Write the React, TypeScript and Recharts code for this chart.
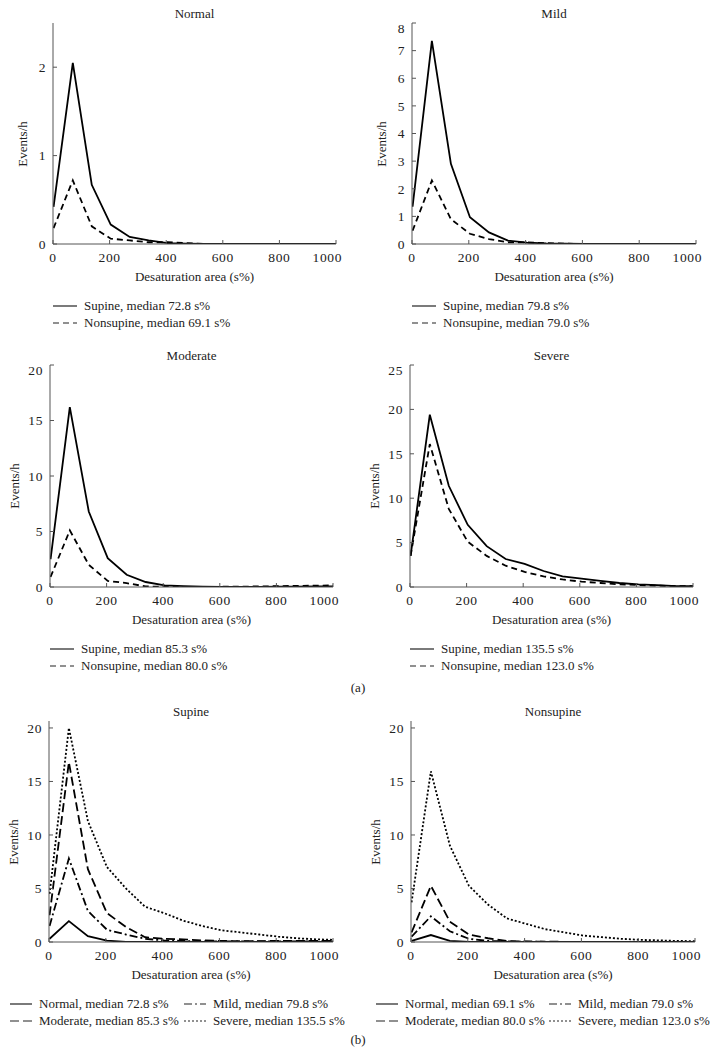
import React from "react";
import { LineChart, Line, XAxis, YAxis } from "recharts";

// desaturation area bins (s%)
const areaBins = [2, 70, 137, 204, 271, 338, 405, 472, 539, 606, 673, 740, 807, 874, 941, 1000];
const xTicks = [0, 200, 400, 600, 800, 1000];

// (a) per severity group, events/h
const normalSupine = [0.42, 2.05, 0.67, 0.22, 0.08, 0.04, 0.01, 0.005, 0, 0, 0, 0, 0, 0, 0, 0];
const normalNonsupine = [0.18, 0.72, 0.2, 0.06, 0.04, 0.02, 0.02, 0.01, 0, 0, 0, 0, 0, 0, 0, 0];
const mildSupine = [1.35, 7.35, 2.9, 0.97, 0.42, 0.12, 0.05, 0.02, 0.01, 0, 0, 0, 0, 0, 0, 0];
const mildNonsupine = [0.48, 2.3, 0.9, 0.37, 0.18, 0.06, 0.06, 0.03, 0.01, 0, 0, 0, 0, 0, 0, 0];
const moderateSupine = [2.5, 16.2, 6.8, 2.6, 1.1, 0.45, 0.15, 0.08, 0.04, 0.02, 0.02, 0.02, 0.03, 0.04, 0.05, 0.06];
const moderateNonsupine = [0.9, 5.1, 2.0, 0.55, 0.35, 0.05, 0.02, 0.02, 0.02, 0.02, 0.03, 0.05, 0.08, 0.1, 0.12, 0.15];
const severeSupine = [3.5, 19.4, 11.4, 7.0, 4.6, 3.15, 2.6, 1.8, 1.2, 0.95, 0.7, 0.45, 0.3, 0.2, 0.1, 0.1];
const severeNonsupine = [3.5, 16.1, 8.8, 5.1, 3.5, 2.4, 1.7, 1.2, 0.85, 0.6, 0.45, 0.3, 0.22, 0.15, 0.1, 0.08];

// (b) per position
const supNormal = [0.3, 1.95, 0.55, 0.12, 0.02, 0.01, 0, 0, 0, 0, 0, 0, 0, 0, 0, 0];
const supMild = [1.5, 7.8, 2.9, 1.15, 0.7, 0.3, 0.15, 0.1, 0.06, 0.05, 0.05, 0.05, 0.05, 0.05, 0.05, 0.05];
const supModerate = [2.5, 16.8, 6.8, 2.7, 1.4, 0.45, 0.3, 0.25, 0.15, 0.1, 0.08, 0.08, 0.1, 0.1, 0.1, 0.1];
const supSevere = [4.5, 20.0, 11.3, 7.0, 5.0, 3.3, 2.7, 2.0, 1.5, 1.1, 0.9, 0.7, 0.5, 0.35, 0.25, 0.2];
const nonNormal = [0.1, 0.65, 0.1, 0.02, 0.01, 0, 0, 0, 0, 0, 0, 0, 0, 0, 0, 0];
const nonMild = [0.5, 2.4, 1.0, 0.3, 0.1, 0.05, 0.03, 0.02, 0.01, 0.01, 0.01, 0.01, 0.01, 0.01, 0.01, 0.01];
const nonModerate = [0.9, 5.25, 1.9, 0.7, 0.35, 0.1, 0.05, 0.03, 0.02, 0.02, 0.02, 0.02, 0.02, 0.02, 0.02, 0.02];
const nonSevere = [3.7, 15.95, 9.0, 5.25, 3.5, 2.2, 1.7, 1.2, 0.9, 0.6, 0.45, 0.3, 0.2, 0.15, 0.1, 0.08];

const FONT = '"Liberation Serif", "DejaVu Serif", serif';
const INK = "#222";
const FRAME = "#555";

const SOLID = undefined;
const DASH = "6 4";
const LONGDASH = "9 4";
const DASHDOT = "8 3 2 3";
const DOT = "2 2";

type Series = { key: string; name: string; dash?: string };

function rows(cols: Record<string, number[]>) {
  return areaBins.map((x, i) => {
    const r: Record<string, number> = { x };
    for (const k in cols) r[k] = cols[k][i];
    return r;
  });
}

// y label, placed from the plot's left edge (page px)
function YLabel({ left, top, h, gap }: { left: number; top: number; h: number; gap: number }) {
  return (
    <div style={{
      position: "absolute", left: left - gap - 40, top: top + h / 2 + 10 - 8, width: 80, height: 16,
      textAlign: "center", lineHeight: "16px", transform: "rotate(-90deg)",
      fontFamily: FONT, fontSize: 13, color: INK,
    }}>Events/h</div>
  );
}

const XLabel = (p: any) => {
  const vb = p.viewBox;
  return (
    <text x={vb.x + vb.width / 2} y={vb.y + 32} textAnchor="middle" dominantBaseline="central"
      fill={INK} fontSize={13} fontFamily={FONT}>Desaturation area (s%)</text>
  );
};

function Sample({ dash, w }: { dash?: string; w: number }) {
  return (
    <svg width={w} height={10} style={{ display: "block", flex: "none" }}>
      <line x1={0} y1={5} x2={w} y2={5} stroke={INK} strokeWidth={1.2} strokeDasharray={dash} />
    </svg>
  );
}

function Panel({ left, top, w, h, title, yMax, yTicks, gap, data, series, lw = 1.8 }: {
  left: number; top: number; w: number; h: number; title: string; yMax: number; yTicks: number[];
  gap: number; data: Record<string, number>[]; series: Series[]; lw?: number;
}) {
  const ML = 50, MT = 3, MR = 6, XH = 44;
  const W = w + ML + MR, H = h + MT + XH;
  const tickStyle = { fill: INK, fontSize: 13.5, fontFamily: FONT, letterSpacing: 0.6 };
  return (
    <>
      <div style={{ position: "absolute", left, top: top - 17, width: w, textAlign: "center", fontFamily: FONT, fontSize: 13, color: INK, lineHeight: "16px" }}>
        {title}
      </div>
      <YLabel left={left} top={top} h={h} gap={gap} />
      <div style={{ position: "absolute", left: left - ML, top: top - MT }}>
        <LineChart width={W} height={H} data={data} margin={{ top: MT, right: MR, left: 0, bottom: 0 }}>
          <XAxis xAxisId="b" dataKey="x" type="number" domain={[0, 1000]} ticks={xTicks} allowDataOverflow
            height={XH} tickSize={-4} tickMargin={12} stroke={FRAME} tick={tickStyle} label={<XLabel />} />
          <XAxis xAxisId="t" orientation="top" dataKey="x" type="number" domain={[0, 1000]} ticks={xTicks}
            allowDataOverflow height={0} tickSize={-4} tick={false} stroke={FRAME} />
          <YAxis yAxisId="l" type="number" domain={[0, yMax]} ticks={yTicks} allowDataOverflow width={ML}
            tickSize={-4} tickMargin={11} stroke={FRAME} tick={tickStyle} />
          <YAxis yAxisId="r" orientation="right" type="number" domain={[0, yMax]} ticks={yTicks} allowDataOverflow
            width={0} tickSize={-4} tick={false} stroke={FRAME} />
          {series.map((s) => (
            <Line key={s.key} xAxisId="b" yAxisId="l" type="linear" dataKey={s.key} name={s.name}
              stroke="#000" strokeWidth={lw} strokeDasharray={s.dash} dot={false} isAnimationActive={false} />
          ))}
        </LineChart>
      </div>
    </>
  );
}

function LegendA({ left, top, series }: { left: number; top: number; series: Series[] }) {
  return (
    <div style={{ position: "absolute", left, top, fontFamily: FONT, fontSize: 13, color: INK }}>
      {series.map((s) => (
        <div key={s.key} style={{ display: "flex", alignItems: "center", height: 17, whiteSpace: "nowrap" }}>
          <Sample dash={s.dash} w={24} />
          <span style={{ marginLeft: 7 }}>{s.name}</span>
        </div>
      ))}
    </div>
  );
}

function LegendB({ left, top, col2, series }: { left: number; top: number; col2: number; series: Series[] }) {
  return (
    <div style={{ position: "absolute", left, top, fontFamily: FONT, fontSize: 13, color: INK }}>
      {series.map((s, i) => (
        <div key={s.key} style={{ position: "absolute", left: i % 2 ? col2 : 0, top: Math.floor(i / 2) * 17, display: "flex", alignItems: "center", height: 17, whiteSpace: "nowrap" }}>
          <Sample dash={s.dash} w={22} />
          <span style={{ marginLeft: 7 }}>{s.name}</span>
        </div>
      ))}
    </div>
  );
}

const posSeries = (a: string, b: string): Series[] => [
  { key: "supine", name: `Supine, median ${a} s%`, dash: SOLID },
  { key: "nonsupine", name: `Nonsupine, median ${b} s%`, dash: DASH },
];

const sevSeries = (m: string[]): Series[] => [
  { key: "normal", name: `Normal, median ${m[0]} s%`, dash: SOLID },
  { key: "mild", name: `Mild, median ${m[1]} s%`, dash: DASHDOT },
  { key: "moderate", name: `Moderate, median ${m[2]} s%`, dash: LONGDASH },
  { key: "severe", name: `Severe, median ${m[3]} s%`, dash: DOT },
];

export default function App() {
  const nS = posSeries("72.8", "69.1");
  const miS = posSeries("79.8", "79.0");
  const moS = posSeries("85.3", "80.0");
  const seS = posSeries("135.5", "123.0");
  const supS = sevSeries(["72.8", "79.8", "85.3", "135.5"]);
  const nonS = sevSeries(["69.1", "79.0", "80.0", "123.0"]);
  const cap = { position: "absolute" as const, left: 0, width: 716, textAlign: "center" as const, fontFamily: FONT, fontSize: 13, color: INK };
  return (
    <div style={{ position: "absolute", left: 0, top: 0, width: 716, height: 1057, background: "#fff" }}>
      <Panel left={53} top={23} w={283} h={221} title="Normal" yMax={2.5} yTicks={[0, 1, 2]} gap={30}
        data={rows({ supine: normalSupine, nonsupine: normalNonsupine })} series={nS} />
      <LegendA left={53} top={297} series={nS} />
      <Panel left={412} top={23} w={284} h={221} title="Mild" yMax={8} yTicks={[0, 1, 2, 3, 4, 5, 6, 7, 8]} gap={30}
        data={rows({ supine: mildSupine, nonsupine: mildNonsupine })} series={miS} />
      <LegendA left={412} top={297} series={miS} />

      <Panel left={50} top={365} w={283} h={222} title="Moderate" yMax={20} yTicks={[0, 5, 10, 15, 20]} gap={35}
        data={rows({ supine: moderateSupine, nonsupine: moderateNonsupine })} series={moS} />
      <LegendA left={50} top={640} series={moS} />
      <Panel left={410} top={365} w={283} h={222} title="Severe" yMax={25} yTicks={[0, 5, 10, 15, 20, 25]} gap={35}
        data={rows({ supine: severeSupine, nonsupine: severeNonsupine })} series={seS} />
      <LegendA left={410} top={640} series={seS} />
      <div style={{ ...cap, top: 680 }}>(a)</div>

      <Panel left={49} top={721} w={284} h={221} title="Supine" yMax={20.65} yTicks={[0, 5, 10, 15, 20]} gap={35}
        data={rows({ normal: supNormal, mild: supMild, moderate: supModerate, severe: supSevere })} series={supS} />
      <LegendB left={10} top={995} col2={174} series={supS} />
      <Panel left={411} top={721} w={284} h={221} title="Nonsupine" yMax={20.65} yTicks={[0, 5, 10, 15, 20]} gap={35}
        data={rows({ normal: nonNormal, mild: nonMild, moderate: nonModerate, severe: nonSevere })} series={nonS} />
      <LegendB left={376} top={995} col2={173} series={nonS} />
      <div style={{ ...cap, top: 1032 }}>(b)</div>
    </div>
  );
}
